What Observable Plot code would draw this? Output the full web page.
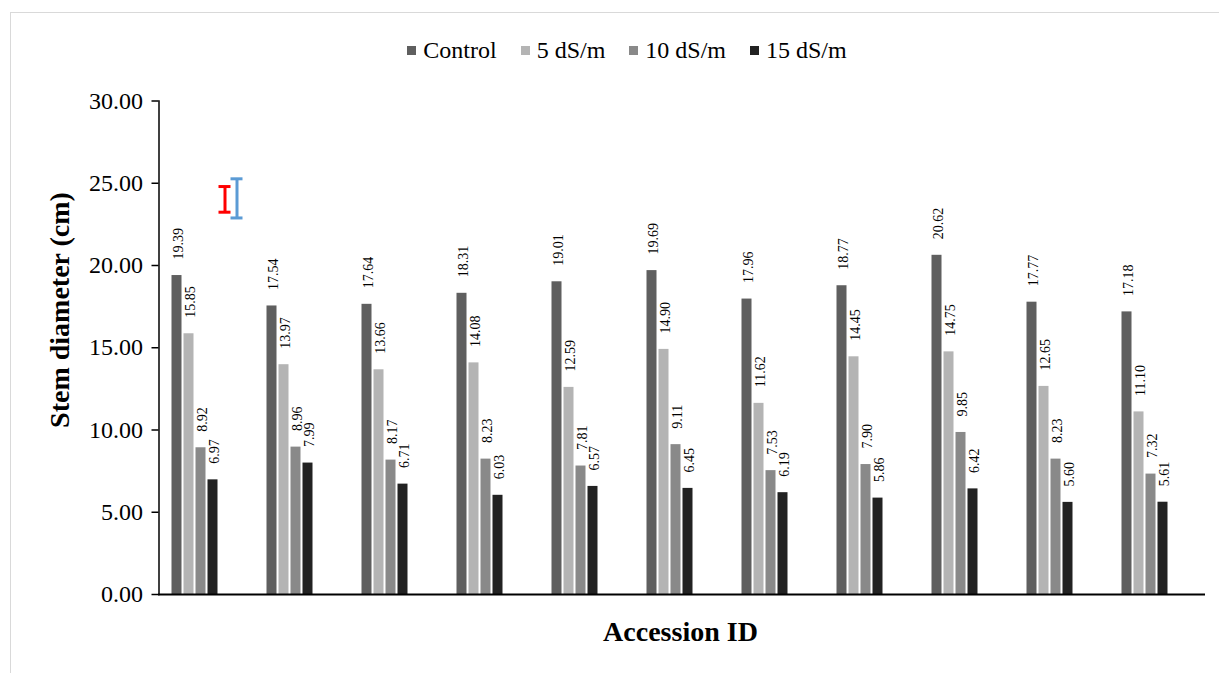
<!DOCTYPE html>
<html>
<head>
<meta charset="utf-8">
<script src="https://cdn.jsdelivr.net/npm/d3@7"></script>
<script src="https://cdn.jsdelivr.net/npm/@observablehq/plot@0.6"></script>
<style>
  html, body { margin: 0; padding: 0; background: #fff; }
  body { width: 1219px; height: 673px; position: relative; overflow: hidden;
         font-family: "Liberation Serif", "Times New Roman", serif; color: #000; }
  #frame { position: absolute; left: 10px; top: 12px; width: 1235px; height: 700px;
           border: 1.5px solid #d9d9d9; box-sizing: border-box; }
  #legend { position: absolute; left: 0; top: 0; width: 1254px; height: 70px;
            display: flex; justify-content: center; align-items: center; padding-top: 30px; box-sizing: border-box;
            font-size: 24px; }
  .item { display: flex; align-items: center; margin: 0 12px; }
  .sw { width: 9px; height: 9px; margin-right: 7px; }
  #chart { position: absolute; left: 0; top: 70px; }
  #xtitle { position: absolute; top: 616px; left: 156px; width: 1049px; text-align: center;
            font-weight: bold; font-size: 28px; }
  #ytitle { position: absolute; left: 60px; top: 310px; transform: translate(-50%, -50%) rotate(-90deg);
            white-space: nowrap; font-weight: bold; font-size: 28px; }
</style>
</head>
<body>
<div id="frame"></div>
<div id="legend"></div>
<div id="chart"></div>
<div id="xtitle">Accession ID</div>
<div id="ytitle">Stem diameter (cm)</div>
<script>
const groups = ["1","2","3","4","5","6","7","8","9","10","11"];
const seriesNames = ["Control", "5 dS/m", "10 dS/m", "15 dS/m"];
const hiddenSlots = ["LSD a", "LSD b"];
const control = [19.39, 17.54, 17.64, 18.31, 19.01, 19.69, 17.96, 18.77, 20.62, 17.77, 17.18];
const ds5 = [15.85, 13.97, 13.66, 14.08, 12.59, 14.90, 11.62, 14.45, 14.75, 12.65, 11.10];
const ds10 = [8.92, 8.96, 8.17, 8.23, 7.81, 9.11, 7.53, 7.90, 9.85, 8.23, 7.32];
const ds15 = [6.97, 7.99, 6.71, 6.03, 6.57, 6.45, 6.19, 5.86, 6.42, 5.60, 5.61];
const colors = ["#5f5f5f", "#b4b4b4", "#898989", "#222222"];
const yTicks = [0, 5, 10, 15, 20, 25, 30];
// error bars drawn in the first accession's two spare slots
const errGroup = ["1", "1"];
const errSlot = ["LSD a", "LSD b"];
const errLow = [23.24, 22.89];
const errHigh = [24.80, 25.27];
const errColors = ["#ff0000", "#5b9bd5"];

const seriesValues = [control, ds5, ds10, ds15];
const data = [];
groups.forEach((g, i) => seriesNames.forEach((s, j) => data.push({group: g, series: s, value: seriesValues[j][i]})));
const errData = errGroup.map((g, i) => ({group: g, slot: errSlot[i], low: errLow[i], high: errHigh[i], color: errColors[i]}));

// legend
const legend = document.getElementById("legend");
seriesNames.forEach((s, i) => {
  const it = document.createElement("div"); it.className = "item";
  const sw = document.createElement("div"); sw.className = "sw"; sw.style.background = colors[i];
  const t = document.createElement("span"); t.textContent = s;
  it.appendChild(sw); it.appendChild(t); legend.appendChild(it);
});

// plot area runs 156..1205; facets sit inside with half a gap on each end
const gapHalf = 9.5;
const chart = Plot.plot({
  width: 1219,
  height: 603,
  marginTop: 30.5,
  marginBottom: 79,
  marginLeft: 156 + gapHalf,
  marginRight: 14 + gapHalf,
  style: {fontFamily: "'Liberation Serif', 'Times New Roman', serif", fontSize: "24px", color: "#000", background: "transparent"},
  fx: {domain: groups, paddingInner: 0.2, paddingOuter: 0, axis: null, label: null},
  x: {domain: [...seriesNames, ...hiddenSlots], paddingInner: 0.2, paddingOuter: 0.1, axis: null},
  y: {domain: [0, 30], axis: null},
  color: {domain: seriesNames, range: colors},
  marks: [
    Plot.barY(data, {fx: "group", x: "series", y: "value", fill: "series"}),
    Plot.text(data, {fx: "group", x: "series", y: "value", text: d => d.value.toFixed(2),
      rotate: -90, textAnchor: "start", lineAnchor: "middle", dy: -16, dx: 1.5, fontSize: 14, fill: "#000"}),
    Plot.ruleX(errData, {fx: "group", x: "slot", y1: "low", y2: "high", stroke: "color", strokeWidth: 3}),
    Plot.tickY(errData, {fx: "group", x: "slot", y: "low", stroke: "color", strokeWidth: 3, insetLeft: -1, insetRight: -1}),
    Plot.tickY(errData, {fx: "group", x: "slot", y: "high", stroke: "color", strokeWidth: 3, insetLeft: -1, insetRight: -1}),
    Plot.axisY({ticks: yTicks, tickFormat: d => d.toFixed(2), tickSize: 7, tickPadding: 9, dx: -gapHalf, label: null, stroke: "#000", strokeWidth: 1.5}),
    Plot.frame({anchor: "left", facet: "super", stroke: "#000", strokeWidth: 1.5, insetLeft: -gapHalf}),
    Plot.frame({anchor: "bottom", facet: "super", stroke: "#000", strokeWidth: 2, insetLeft: -gapHalf, insetRight: -gapHalf})
  ]
});
document.getElementById("chart").appendChild(chart);
</script>
</body>
</html>
